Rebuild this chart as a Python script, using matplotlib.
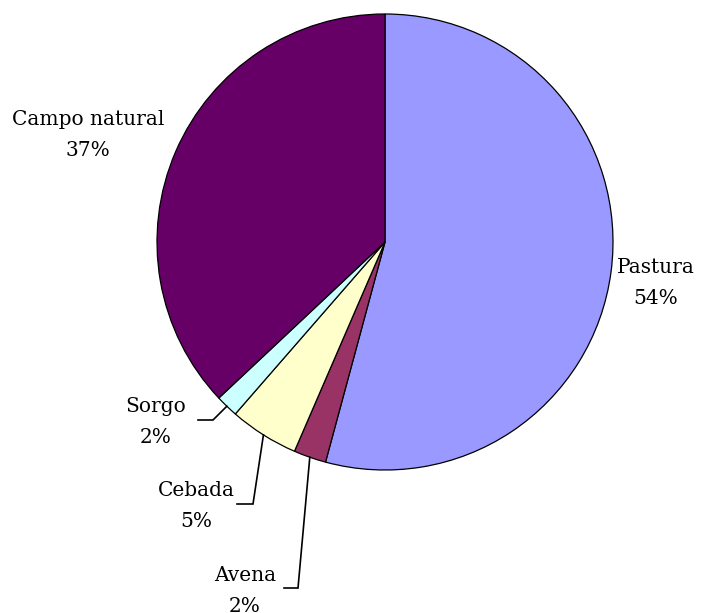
import numpy as np
import matplotlib.pyplot as plt

labels = ["Pastura", "Avena", "Cebada", "Sorgo", "Campo natural"]
values = [54.2, 2.3, 4.9, 1.6, 37.0]
colors = ["#9999FF", "#993366", "#FFFFCC", "#CCFFFF", "#660066"]

W, H = 701, 613
fig = plt.figure(figsize=(W / 100, H / 100), dpi=100)
ax = fig.add_axes([0, 0, 1, 1])

cx, cy, r = 385, H - 242, 228
wedges, _ = ax.pie(values, colors=colors, startangle=90, counterclock=False,
                   center=(cx, cy), radius=r, frame=True,
                   wedgeprops=dict(edgecolor="black", linewidth=0.9))
ax.set_xlim(0, W)
ax.set_ylim(0, H)
ax.set_aspect("equal")
ax.axis("off")

font = dict(family="DejaVu Serif", fontsize=14.5, ha="center", va="center",
            linespacing=1.8)

# label centres (pixel coords from top) and leader elbows
label_pos = {
    "Pastura": (656, 283),
    "Avena": (245, 591),
    "Cebada": (196, 506),
    "Sorgo": (156, 422),
    "Campo natural": (88, 135),
}
leaders = {
    "Avena": [(298, 588), (284, 588)],
    "Cebada": [(253, 504), (237, 504)],
    "Sorgo": [(213, 420), (198, 420)],
}

for w, lab, v in zip(wedges, labels, values):
    x, y = label_pos[lab]
    ax.text(x, H - y, f"{lab}\n{round(v):d}%", **font)
    if lab in leaders:
        ang = np.deg2rad((w.theta1 + w.theta2) / 2)
        sx, sy = cx + r * np.cos(ang), cy + r * np.sin(ang)
        pts = [(sx, sy)] + [(px, H - py) for px, py in leaders[lab]]
        xs, ys = zip(*pts)
        ax.plot(xs, ys, color="black", lw=1.2, solid_joinstyle="miter")

fig.savefig("out.png", dpi=100, facecolor="white")
